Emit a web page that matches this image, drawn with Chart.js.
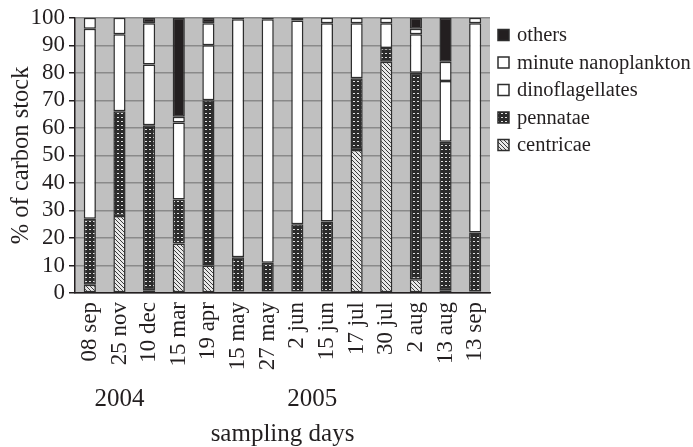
<!DOCTYPE html>
<html>
<head>
<meta charset="utf-8">
<script src="https://cdn.jsdelivr.net/npm/chart.js@4.4.0/dist/chart.umd.min.js"></script>
<style>
  html, body { margin: 0; padding: 0; background: #fff; }
  #wrap { width: 693px; height: 447px; }
</style>
</head>
<body>
<div id="wrap"><canvas id="chart" width="693" height="447"></canvas></div>
<script>
const days = ['08 sep', '25 nov', '10 dec', '15 mar', '19 apr', '15 may', '27 may', '2 jun', '15 jun', '17 jul', '30 jul', '2 aug', '13 aug', '13 sep']
const years = [['2004', 1], ['2005', 7.5]]   // label, category position it is centred under

const centricae = [3, 28, 1, 18, 10, 0.5, 0.5, 0.5, 0.5, 52, 84, 5, 1, 0.5]
const pennatae = [24, 38, 60, 16, 60, 12.5, 10.5, 24.5, 25.5, 26, 5, 75, 54, 21.5]
const dinoflagellates = [69, 28, 22, 28, 20, 86.5, 88.5, 74, 72, 20, 9, 14, 22, 76]
const nanoplankton = [4, 6, 15, 2, 8, null, null, null, 2, 2, 2, 2, 7, 2]
const others = [null, null, 2, 36, 2, 0.5, 0.5, 1, null, null, null, 4, 16, null]

const ink = '#231f20'
const serif = 'Liberation Serif'

function makePattern(draw) {
    const c = document.createElement('canvas')
    c.width = 4
    c.height = 4
    const g = c.getContext('2d')
    draw(g)
    return g.createPattern(c, 'repeat')
}

// diagonal hatch for centricae
const hatch = makePattern(function(g) {
    g.fillStyle = '#e8e8e8'
    g.fillRect(0, 0, 4, 4)
    g.fillStyle = '#3a3a3a'
    for (let i = 0; i < 4; i++) g.fillRect(i, i, 1, 1)
})

// dark dotted grid for pennatae
const dots = makePattern(function(g) {
    g.fillStyle = '#2b2b2b'
    g.fillRect(0, 0, 4, 4)
    g.fillStyle = '#e0e0e0'
    g.fillRect(1, 1, 2, 1)
})

const plotBg = {
    id: 'plotBg',
    beforeDraw(chart) {
        const a = chart.chartArea
        const ctx = chart.ctx
        ctx.save()
        ctx.fillStyle = '#c0c0c0'
        ctx.fillRect(a.left, a.top, a.right - a.left, a.bottom - a.top)
        ctx.restore()
    }
}

// years under the day labels + the legend on the right
const extras = {
    id: 'extras',
    afterDraw(chart) {
        const x = chart.scales.x
        const ctx = chart.ctx
        ctx.save()
        ctx.fillStyle = ink
        ctx.font = '25px "' + serif + '"'
        ctx.textAlign = 'center'
        ctx.textBaseline = 'middle'
        years.forEach(function(y) {
            ctx.fillText(y[0], x.getPixelForValue(y[1]), 399)
        })

        ctx.font = '20.5px "' + serif + '"'
        ctx.textAlign = 'left'
        const items = chart.data.datasets.slice().reverse()
        items.forEach(function(d, i) {
            const cy = 35 + i * 27.5
            ctx.fillStyle = d.backgroundColor
            ctx.fillRect(498, cy - 5.5, 11, 11)
            ctx.strokeStyle = '#2e2e2e'
            ctx.lineWidth = 1.5
            ctx.strokeRect(498, cy - 5.5, 11, 11)
            ctx.fillStyle = ink
            ctx.fillText(d.label, 517, cy + 1)
        })
        ctx.restore()
    }
}

function ds(label, data, fill) {
    return {
        label: label,
        data: data,
        backgroundColor: fill,
        borderColor: '#2e2e2e',
        borderWidth: 1.5,
        borderSkipped: false,
        barPercentage: 0.41,
        categoryPercentage: 1
    }
}

const chart = new Chart(document.getElementById('chart'), {
    type: 'bar',
    data: {
        labels: days,
        datasets: [
            ds('centricae', centricae, hatch),
            ds('pennatae', pennatae, dots),
            ds('dinoflagellates', dinoflagellates, '#ffffff'),
            ds('minute nanoplankton', nanoplankton, '#ffffff'),
            ds('others', others, ink)
        ]
    },
    options: {
        responsive: false,
        animation: false,
        layout: { padding: { left: 7, top: 17, right: 203, bottom: 0 } },
        plugins: {
            tooltip: { enabled: false },
            legend: { display: false }
        },
        scales: {
            x: {
                stacked: true,
                grid: { display: false, offset: true, drawOnChartArea: false, tickLength: 7, tickColor: ink },
                border: { color: ink, width: 1.5 },
                ticks: {
                    color: ink,
                    font: { family: serif, size: 23 },
                    minRotation: 90,
                    maxRotation: 90,
                    autoSkip: false,
                    padding: 2
                },
                title: {
                    display: true,
                    text: 'sampling days',
                    color: ink,
                    font: { family: serif, size: 25, lineHeight: 1 },
                    padding: { top: 36, bottom: 0 }
                },
                afterFit(scale) { scale.height = 154 }
            },
            y: {
                stacked: true,
                min: 0,
                max: 100,
                ticks: {
                    stepSize: 10,
                    autoSkip: false,
                    color: ink,
                    font: { family: serif, size: 23 },
                    padding: 4
                },
                grid: { color: '#8a8a8a', lineWidth: 1.5, tickLength: 6, tickColor: ink, drawTicks: true },
                border: { color: ink, width: 1.5 },
                title: {
                    display: true,
                    text: '% of carbon stock',
                    color: ink,
                    font: { family: serif, size: 24.5 },
                    padding: 0
                },
                afterFit(scale) { scale.width = 68 }
            }
        }
    },
    plugins: [plotBg, extras]
})
</script>
</body>
</html>
